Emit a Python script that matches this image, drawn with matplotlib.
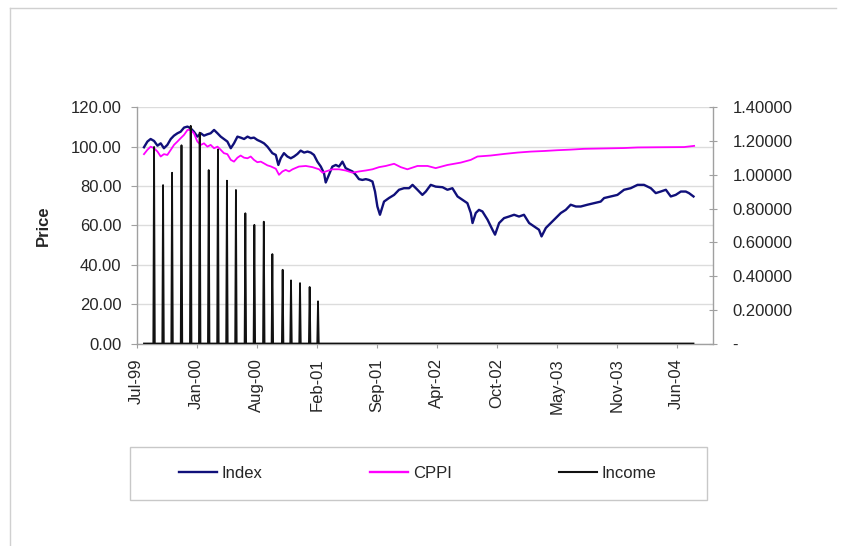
import numpy as np
import matplotlib
matplotlib.use("Agg")
import matplotlib.pyplot as plt
from matplotlib.ticker import FuncFormatter, FixedLocator
from matplotlib.lines import Line2D

plt.rcParams['font.family'] = ['Liberation Sans', 'DejaVu Sans']

# ---- data (x in weeks since Jul-99) ----
index_weeks = [3.4,5.0,6.5,8.1,9.7,11.2,12.7,14.3,15.9,17.4,19.0,20.5,22.1,23.7,25.2,26.7,28.3,29.9,31.4,33.0,
               34.5,36.1,37.7,39.2,40.7,42.3,43.9,45.4,47.0,48.5,50.1,51.7,53.2,54.7,56.3,57.9,59.4,61.0,63.3,64.9,
               66.1,67.2,68.7,70.3,71.9,73.4,75.0,76.5,78.1,79.7,81.2,82.7,84.3,85.9,87.4,88.2,89.7,91.3,92.9,94.4,
               96.0,97.5,99.1,100.7,102.2,103.7,105.3,106.9,108.4,110.0,111.2,112.3,113.5,115.4,117.7,120.1,122.4,124.7,127.1,128.7,
               131.0,133.3,134.9,137.2,139.5,142.7,145.0,147.3,149.7,152.0,154.3,155.9,156.7,158.2,159.7,161.3,163.7,166.0,167.2,169.1,
               171.4,173.7,176.1,178.4,180.7,183.1,185.4,187.7,188.9,190.9,193.2,195.5,197.9,200.2,202.5,204.9,207.2,210.3,213.4,216.5,
               218.1,221.2,224.3,227.4,230.5,233.7,236.7,239.9,242.2,244.5,246.9,249.2,251.5,253.9,256.2,257.7,259.8]
index_vals = [99.7,102.6,103.9,102.9,100.5,101.7,99.2,100.9,103.9,105.6,
              106.8,107.6,109.7,110.2,109.3,107.6,105.1,106.8,105.6,106.3,
              106.8,108.5,106.8,105.1,103.9,102.6,99.2,101.7,105.1,104.6,
              103.9,105.1,104.3,104.6,103.4,102.6,101.7,100.0,96.7,95.8,
              90.7,94.1,96.7,95.0,94.1,95.0,96.3,98.0,97.0,97.5,
              97.0,95.8,92.4,89.9,86.5,81.8,85.7,89.9,90.7,89.9,
              92.4,89.1,88.2,87.4,85.7,83.5,83.1,83.5,83.1,82.3,
              77.2,69.6,65.4,72.1,73.9,75.5,78.1,78.9,78.9,80.6,
              78.1,75.5,77.2,80.6,79.7,79.4,78.1,78.9,74.7,73.0,
              71.3,66.3,61.2,66.3,67.9,67.1,62.9,57.8,55.3,61.2,
              63.7,64.5,65.4,64.5,65.4,61.2,59.5,57.8,54.4,58.7,
              61.2,63.7,66.3,67.9,70.5,69.6,69.6,70.5,71.3,72.1,
              73.9,74.7,75.5,78.1,78.9,80.6,80.6,78.9,76.4,77.2,
              78.1,74.7,75.5,77.2,77.2,76.4,74.7]

cppi_weeks = [3.4,5.0,6.5,8.1,9.7,11.2,12.7,14.3,15.9,17.4,19.0,20.5,22.1,23.7,25.2,26.7,28.3,29.9,31.4,33.0,
              34.5,36.1,37.7,39.2,40.7,42.3,43.9,45.4,47.0,48.5,50.1,51.7,53.2,54.7,56.3,57.9,59.4,61.0,62.5,64.9,
              66.4,68.0,69.5,71.1,72.7,75.7,78.9,82.0,85.1,86.7,88.2,91.3,94.4,97.5,100.7,103.7,106.9,110.0,113.1,116.2,
              120.1,123.2,126.3,131.0,135.7,139.5,145.0,151.2,155.9,159.0,165.2,171.4,177.7,183.9,190.1,196.3,202.5,208.7,218.1,227.4,
              233.7,243.0,255.4,260.1]
cppi_vals = [96.2,98.4,100.0,99.2,97.5,95.0,96.2,95.8,98.4,100.9,
             102.6,104.3,106.0,108.5,108.5,106.8,102.6,100.9,101.7,100.0,
             100.9,99.2,100.0,98.4,96.7,96.2,93.3,92.4,94.4,95.5,
             94.4,94.1,95.0,93.3,92.1,92.4,91.5,90.5,90.0,88.8,
             85.7,87.4,88.2,87.4,88.5,89.9,90.2,89.6,88.5,86.8,
             87.4,88.5,88.5,87.9,86.8,87.4,87.9,88.5,89.6,90.2,
             91.3,89.6,88.5,90.2,90.2,89.1,90.7,91.9,93.3,95.0,
             95.5,96.3,97.0,97.5,97.8,98.2,98.5,98.9,99.1,99.3,
             99.6,99.7,99.8,100.4]

income_weeks = [8.1,12.3,16.5,20.9,25.2,29.4,33.6,37.9,42.1,46.3,50.7,54.9,59.3,63.3,68.1,72.0,76.2,80.7,84.6]
income_vals = [1.165,0.939,1.012,1.175,1.290,1.250,1.028,1.150,0.965,0.910,0.772,0.703,0.722,0.530,0.437,0.374,0.358,0.335,0.250]

tick_labels = ['Jul-99','Jan-00','Aug-00','Feb-01','Sep-01','Apr-02','Oct-02','May-03','Nov-03','Jun-04']
tick_step = 28

# ---- figure ----
W, H = 843, 546
fig = plt.figure(figsize=(W/100, H/100), dpi=100)
ax = fig.add_axes([136.7/W, 1-343.5/H, (713-136.7)/W, (343.5-107.3)/H])
ax2 = ax.twinx()

TXT = '#262626'
AXC = '#a0a0a0'

ax.set_ylim(0, 120)
ax.set_yticks(np.arange(0, 121, 20))
ax.yaxis.set_major_formatter(FuncFormatter(lambda v, p: f'{v:.2f}'))
ax.grid(axis='y', color='#dcdcdc', lw=1.0)
ax.set_axisbelow(True)

ax.plot(index_weeks, index_vals, color='#10107a', lw=1.7, zorder=3)
ax.plot(cppi_weeks, cppi_vals, color='#ff00ff', lw=1.3, zorder=3)

# income series as spikes on a zero line
ix, iy = [index_weeks[0]], [0.0]
for w, v in zip(income_weeks, income_vals):
    ix += [w-0.35, w, w+0.35]
    iy += [0.0, v, 0.0]
ix.append(index_weeks[-1]); iy.append(0.0)
ax2.plot(ix, iy, color='#111111', lw=1.3, zorder=3)
ax2.set_ylim(0, 1.4)
ax2.set_yticks(np.arange(0, 1.41, 0.2))
ax2.yaxis.set_major_formatter(FuncFormatter(lambda v, p: '-' if abs(v) < 1e-9 else f'{v:.5f}'))

nt = len(tick_labels)
ax.set_xlim(0, 268.9)
ax.xaxis.set_major_locator(FixedLocator([tick_step*k for k in range(nt)]))
ax.set_xticklabels(tick_labels, rotation=90)

for a in (ax, ax2):
    a.spines['top'].set_visible(False)
    for s in ('left', 'right', 'bottom'):
        a.spines[s].set_color(AXC)
        a.spines[s].set_linewidth(1.0)
ax.spines['right'].set_visible(False)
ax2.spines['left'].set_visible(False)
ax2.spines['bottom'].set_visible(False)

ax.tick_params(axis='y', direction='out', length=4, color=AXC, labelsize=12, labelcolor=TXT, pad=7)
ax.tick_params(axis='x', direction='out', length=3, color=AXC, labelsize=12, labelcolor=TXT, pad=7.5)
ax2.tick_params(axis='y', direction='inout', length=6, color=AXC, labelsize=12, labelcolor=TXT, pad=11)

ax.set_ylabel('Price', fontsize=12, fontweight='bold', color=TXT, labelpad=14)

# legend
handles = [Line2D([], [], color='#10107a', lw=1.7),
           Line2D([], [], color='#ff00ff', lw=1.7),
           Line2D([], [], color='#111111', lw=1.5)]
leg = fig.legend(handles, ['Index', 'CPPI', 'Income'], loc='center left',
                 bbox_to_anchor=(171/W, 1-473/H), ncol=3, frameon=False,
                 fontsize=12, handlelength=2.25, handletextpad=0.3,
                 columnspacing=6.45, borderpad=0, labelcolor=TXT)
fig.add_artist(plt.Rectangle((130/W, 1-500/H), 577/W, 53/H, transform=fig.transFigure,
                             fill=False, edgecolor='#c8c8c8', lw=1.0))

# chart border
fig.add_artist(Line2D([10/W, 10/W], [0, 1-8/H], transform=fig.transFigure, color='#d0d0d0', lw=1.0))
fig.add_artist(Line2D([10/W, 836/W], [1-8/H, 1-8/H], transform=fig.transFigure, color='#d0d0d0', lw=1.0))

fig.savefig('out.png', dpi=100)
